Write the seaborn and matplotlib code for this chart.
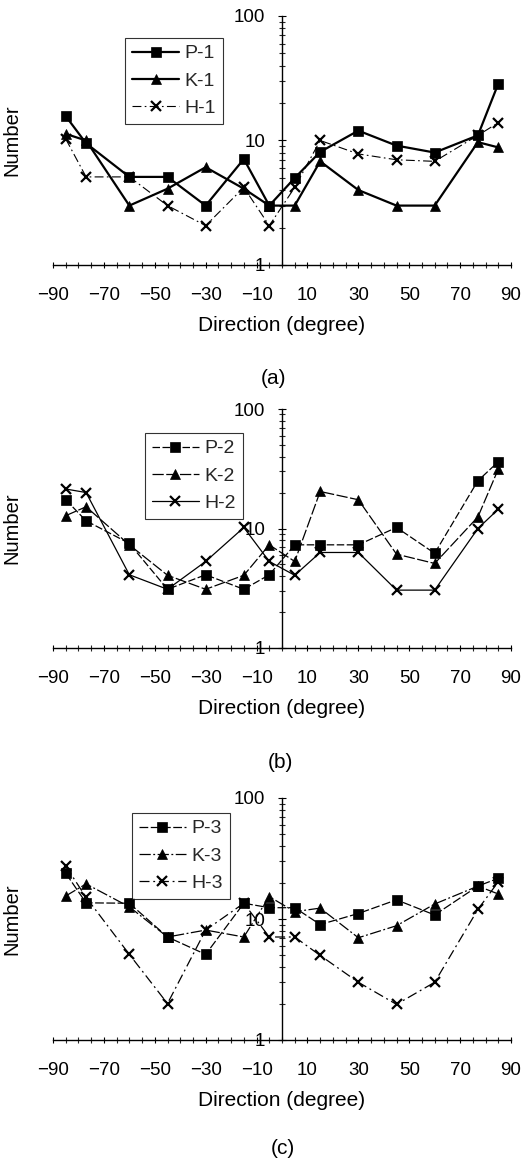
import matplotlib
matplotlib.use("Agg")
import matplotlib.pyplot as plt
import seaborn as sns
import pandas as pd
from matplotlib.ticker import FixedLocator, MultipleLocator, LogLocator, NullFormatter

# ---------------- data ----------------
directions = [-85, -77, -60, -45, -30, -15, -5, 5, 15, 30, 45, 60, 77, 85]

p1 = [15.7, 9.5, 5.1, 5.1, 3.0, 7.1, 3.0, 5.0, 8.1, 12.0, 9.1, 8.0, 11.0, 28.6]
k1 = [11.3, 10.0, 3.0, 4.1, 6.1, 4.1, 3.0, 3.0, 6.8, 4.0, 3.0, 3.0, 9.7, 8.8]
h1 = [10.3, 5.1, 5.1, 3.0, 2.07, 4.2, 2.07, 4.2, 10.0, 7.8, 7.0, 6.8, 11.0, 13.9]

p2 = [17.4, 11.6, 7.5, 3.1, 4.1, 3.1, 4.1, 7.3, 7.3, 7.3, 10.2, 6.2, 25.1, 36.2]
k2 = [12.8, 15.2, 7.3, 4.06, 3.1, 4.06, 7.3, 5.3, 20.4, 17.4, 6.1, 5.1, 12.5, 31.4]
h2 = [21.4, 20.0, 4.1, 3.1, 5.3, 10.2, 5.3, 4.06, 6.3, 6.3, 3.05, 3.05, 10.0, 14.5]

p3 = [23.9, 13.6, 13.5, 7.1, 5.1, 13.5, 12.4, 12.4, 9.0, 11.1, 14.4, 10.8, 18.7, 21.7]
k3 = [15.5, 19.5, 12.6, 7.1, 8.1, 7.1, 15.3, 11.5, 12.3, 7.0, 8.8, 13.3, 18.7, 16.1]
h3 = [27.4, 15.1, 5.1, 2.0, 8.1, 13.5, 7.1, 7.1, 5.0, 3.0, 1.97, 3.0, 12.0, 20.3]

series_names = [["P-1", "K-1", "H-1"], ["P-2", "K-2", "H-2"], ["P-3", "K-3", "H-3"]]
series_values = [[p1, k1, h1], [p2, k2, h2], [p3, k3, h3]]
captions = ["(a)", "(b)", "(c)"]
x_ticks = [-90, -70, -50, -30, -10, 10, 30, 50, 70, 90]
y_ticks = [1, 10, 100]
y_tick_labels = ["1", "10", "100"]
x_label = "Direction (degree)"
y_label = "Number"

# ---------------- style ----------------
sns.set_theme(style="white")
plt.rcParams["font.family"] = ["Liberation Sans", "DejaVu Sans"]
plt.rcParams["axes.unicode_minus"] = True

W, H = 532, 1159
fig = plt.figure(figsize=(W / 100, H / 100), dpi=100)

# axes boxes in pixels: (left, top, right, bottom)
boxes = [(53, 16, 511, 265), (53, 409, 511, 648), (53, 798, 511, 1040)]
legend_anchor = [(0.158, 0.912), (0.201, 0.90), (0.173, 0.938)]
caption_pos = [(273, 378), (280, 762), (283, 1148)]

markers = ["s", "^", "x"]
styles = [
    [("-", 1.6), ("-", 1.6), ((0, (8, 3, 1.5, 3)), 0.8)],
    [((0, (6, 2)), 0.9), ((0, (9, 2)), 0.9), ("-", 0.9)],
    [((0, (7, 2)), 0.9), ((0, (9, 2, 1.5, 2)), 0.9), ((0, (8, 3, 1.5, 3)), 0.9)],
]

for i, (l, t, r, b) in enumerate(boxes):
    ax = fig.add_axes([l / W, 1 - b / H, (r - l) / W, (b - t) / H])
    for j in range(3):
        df = pd.DataFrame({"Direction": directions, "Number": series_values[i][j]})
        ls, lw = styles[i][j]
        mk = markers[j]
        sns.lineplot(
            data=df, x="Direction", y="Number", ax=ax,
            color="black", linestyle=ls, linewidth=lw,
            marker=mk, markersize=7.5 if mk == "x" else 6.5,
            markeredgecolor="black", markerfacecolor="black",
            markeredgewidth=1.6 if mk == "x" else 0.5,
            label=series_names[i][j],
        )
    ax.set_yscale("log")
    ax.set_xlim(-90, 90)
    ax.set_ylim(1, 100)
    for s in ["top", "right"]:
        ax.spines[s].set_visible(False)
    ax.spines["left"].set_position(("data", 0))
    ax.spines["left"].set_linewidth(1.0)
    ax.spines["bottom"].set_linewidth(1.0)
    ax.spines["left"].set_color("black")
    ax.spines["bottom"].set_color("black")

    ax.xaxis.set_major_locator(FixedLocator(x_ticks))
    ax.xaxis.set_minor_locator(MultipleLocator(5))
    ax.set_yticks(y_ticks, labels=y_tick_labels)
    ax.yaxis.set_minor_locator(LogLocator(base=10, subs=range(2, 10)))
    ax.yaxis.set_minor_formatter(NullFormatter())

    ax.tick_params(axis="x", which="major", direction="inout", length=5, width=0.8,
                   pad=13, labelsize=13.5, colors="black", bottom=True)
    ax.tick_params(axis="x", which="minor", direction="inout", length=5, width=0.8,
                   bottom=True)
    ax.tick_params(axis="y", which="major", direction="inout", length=6, width=0.8,
                   pad=9, labelsize=13.5, colors="black", left=True)
    ax.tick_params(axis="y", which="minor", direction="inout", length=5, width=0.8,
                   left=True)

    ax.set_xlabel(x_label, fontsize=15, labelpad=9, color="black")
    ax.set_ylabel(y_label, fontsize=14.5, color="black")
    ax.yaxis.set_label_coords(-0.068, 0.5)

    leg = ax.legend(loc="upper left", bbox_to_anchor=legend_anchor[i],
                    borderaxespad=0, frameon=True, fancybox=False,
                    fontsize=14, handlelength=2.4, handletextpad=0.3,
                    labelspacing=0.5, borderpad=0.35)
    leg.get_frame().set_edgecolor("black")
    leg.get_frame().set_linewidth(0.8)
    leg.get_frame().set_facecolor("white")

    cx, cy = caption_pos[i]
    fig.text(cx / W, 1 - cy / H, captions[i], ha="center", va="center",
             fontsize=15, color="black")

fig.savefig("out.png", dpi=100)
